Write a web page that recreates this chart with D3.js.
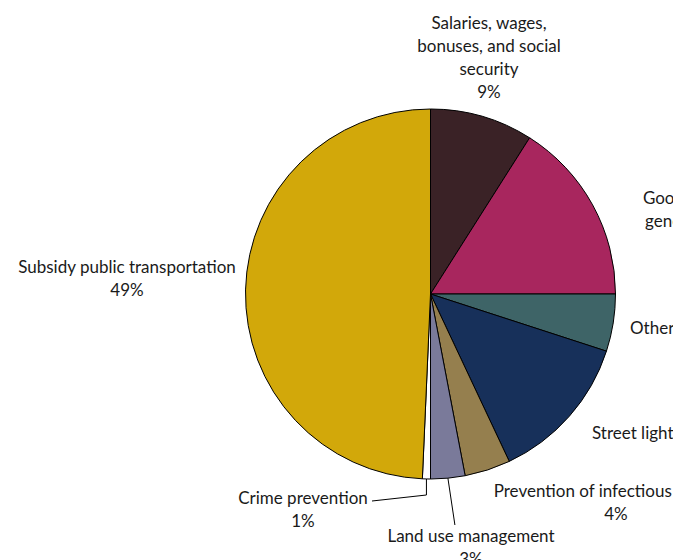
<!DOCTYPE html>
<html><head><meta charset="utf-8">
<script src="https://cdn.jsdelivr.net/npm/d3@7"></script>
<style>body{margin:0;background:#fff}svg{display:block}text{font-family:Lato,"Open Sans",sans-serif;font-size:17px;fill:#1a1a1a}</style>
</head><body><svg id="c" width="673" height="560"></svg>
<script>
const categories = ["Salaries, wages, bonuses, and social security","Goods and services for general administration","Other","Street lighting","Prevention of infectious diseases","Land use management","Crime prevention","Subsidy public transportation"];
const values = [9, 16, 5, 13, 4, 3, 0.7, 49.3];
const pctLabels = ["9%","16%","5%","13%","4%","3%","1%","49%"];
const colors = ["#3a2226","#a8265e","#3e6467","#17305a","#957f4e","#7a7a9a","#ffffff","#d2a80a"];
const labelLines = [
  ["Salaries, wages,","bonuses, and social","security","9%"],
  ["Goods and services for","general administration","16%"],
  ["Other 5%"],
  ["Street lighting 13%"],
  ["Prevention of infectious diseases","4%"],
  ["Land use management","3%"],
  ["Crime prevention","1%"],
  ["Subsidy public transportation","49%"]
];

const layout = {
  cx: 430.5, cy: 294, r: 185, lh: 23,
  labels: [
    {x:489, y:22, a:"middle"},
    {x:728, y:197, a:"middle"},
    {x:630, y:327, a:"start"},
    {x:592, y:432, a:"start"},
    {x:616, y:490, a:"middle"},
    {x:471, y:535, a:"middle"},
    {x:303, y:497, a:"middle"},
    {x:127, y:266, a:"middle"}
  ]
};

const svg = d3.select("#c");
const g = svg.append("g").attr("transform", `translate(${layout.cx},${layout.cy})`);
const pie = d3.pie().sort(null).value(d => d);
const arcs = pie(values);
const arc = d3.arc().innerRadius(0).outerRadius(layout.r);

g.selectAll("path").data(arcs).join("path")
  .attr("d", arc)
  .attr("fill", (d,i) => colors[i])
  .attr("stroke", "#000")
  .attr("stroke-width", 1)
  .attr("stroke-linejoin", "round");

function edgePoint(i, rr) {
  const a = (arcs[i].startAngle + arcs[i].endAngle) / 2;
  return [layout.cx + rr * Math.sin(a), layout.cy - rr * Math.cos(a)];
}
const lp5 = edgePoint(5, layout.r);
svg.append("path").attr("fill","none").attr("stroke","#000").attr("stroke-width",1)
  .attr("d", d3.line()([lp5, [lp5[0] + 7, 525]]));
const lp6 = edgePoint(6, layout.r);
svg.append("path").attr("fill","none").attr("stroke","#000").attr("stroke-width",1)
  .attr("d", d3.line()([lp6, [lp6[0], 495], [372, 501]]));

layout.labels.forEach((L, i) => {
  const t = svg.append("text").attr("text-anchor", L.a);
  labelLines[i].forEach((ln, k) => {
    t.append("tspan").attr("x", L.x).attr("y", L.y + k * layout.lh)
      .attr("dominant-baseline", "central").text(ln);
  });
});
</script></body></html>
